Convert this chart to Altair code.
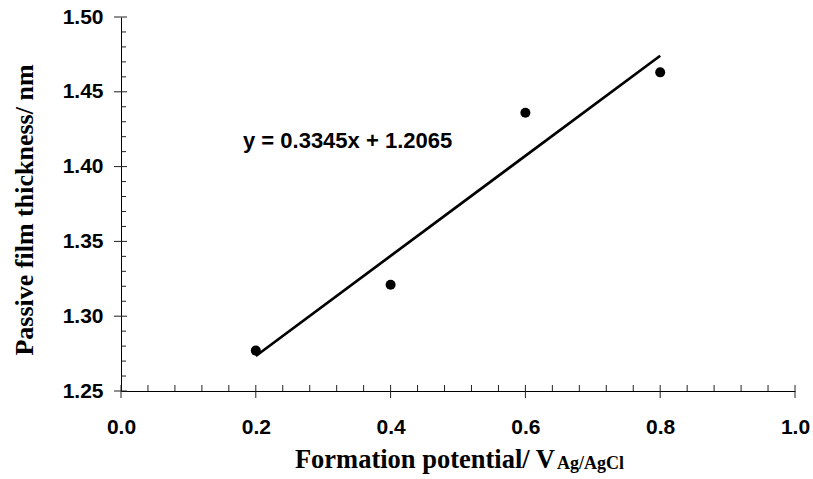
import altair as alt
import pandas as pd

# ---- data ----
potential = [0.2, 0.4, 0.6, 0.8]
thickness = [1.277, 1.321, 1.436, 1.463]
fit_x = [0.2, 0.8]
fit_y = [1.2734, 1.4741]
equation = ["y = 0.3345x + 1.2065"]
eq_x = [0.181]
eq_y = [1.4122]

x_major = [0.0, 0.2, 0.4, 0.6, 0.8, 1.0]
x_minor = [0.04, 0.08, 0.12, 0.16, 0.24, 0.28, 0.32, 0.36, 0.44, 0.48,
           0.52, 0.56, 0.64, 0.68, 0.72, 0.76, 0.84, 0.88, 0.92, 0.96]
y_major = [1.25, 1.30, 1.35, 1.40, 1.45, 1.50]
y_minor = [1.26, 1.27, 1.28, 1.29, 1.31, 1.32, 1.33, 1.34, 1.36, 1.37,
           1.38, 1.39, 1.41, 1.42, 1.43, 1.44, 1.46, 1.47, 1.48, 1.49]

x_title = ["Formation potential/ V"]
x_sub = ["Ag/AgCl"]
y_title = ["Passive film thickness/ nm"]

W, H = 674, 374
SANS = "Liberation Sans"
SERIF = "Liberation Serif"

xs = alt.Scale(domain=[0, 1], nice=False, zero=False)
ys = alt.Scale(domain=[1.25, 1.5], nice=False, zero=False)

xaxis = alt.Axis(
    values=x_major, format=".1f", title=None, grid=False,
    ticks=False, tickSize=0, labelPadding=25, labelFlush=False,
    labelOverlap=False,
    labelFont=SANS, labelFontWeight="bold", labelFontSize=21,
    labelColor="black", domainColor="black", domainWidth=1)
yaxis = alt.Axis(
    values=y_major, format=".2f", title=None, grid=False,
    ticks=False, tickSize=0, labelPadding=18, labelFlush=False,
    labelOverlap=False,
    labelFont=SANS, labelFontWeight="bold", labelFontSize=21,
    labelColor="black", domainColor="black", domainWidth=1)


def X(f):
    return alt.X(f, scale=xs, axis=xaxis, title=None)


def Y(f):
    return alt.Y(f, scale=ys, axis=yaxis, title=None)


pts_df = pd.DataFrame({"x": potential, "y": thickness})
fit_df = pd.DataFrame({"x": fit_x, "y": fit_y})
eq_df = pd.DataFrame({"x": eq_x, "y": eq_y, "t": equation})

points = alt.Chart(pts_df).mark_point(
    filled=True, shape="circle", size=100, color="black", opacity=1
).encode(x=X("x:Q"), y=Y("y:Q"))

fit = alt.Chart(fit_df).mark_line(color="black", strokeWidth=2.7).encode(
    x=X("x:Q"), y=Y("y:Q"))

eq = alt.Chart(eq_df).mark_text(
    align="left", baseline="alphabetic", font=SANS, fontWeight="bold",
    fontSize=22, color="black"
).encode(x=X("x:Q"), y=Y("y:Q"), text="t:N")

xmaj = alt.Chart(pd.DataFrame({"v": x_major})).mark_rule(
    color="#222", strokeWidth=1).encode(
    x=X("v:Q"), y=alt.value(H - 6), y2=alt.value(H + 7))
xmin = alt.Chart(pd.DataFrame({"v": x_minor})).mark_rule(
    color="#222", strokeWidth=1).encode(
    x=X("v:Q"), y=alt.value(H - 6), y2=alt.value(H))
ymaj = alt.Chart(pd.DataFrame({"v": y_major})).mark_rule(
    color="#222", strokeWidth=1).encode(
    y=Y("v:Q"), x=alt.value(-7), x2=alt.value(6))
ymin = alt.Chart(pd.DataFrame({"v": y_minor})).mark_rule(
    color="#222", strokeWidth=1).encode(
    y=Y("v:Q"), x=alt.value(0), x2=alt.value(5))

xt = alt.Chart(pd.DataFrame({"t": x_title})).mark_text(
    align="right", baseline="alphabetic", font=SERIF, fontWeight="bold",
    fontSize=26.5, color="black").encode(
    x=alt.value(434), y=alt.value(451), text="t:N")
xsub = alt.Chart(pd.DataFrame({"t": x_sub})).mark_text(
    align="left", baseline="alphabetic", font=SERIF, fontWeight="bold",
    fontSize=18, color="black").encode(
    x=alt.value(436), y=alt.value(452), text="t:N")
yt = alt.Chart(pd.DataFrame({"t": y_title})).mark_text(
    align="center", baseline="alphabetic", font=SERIF, fontWeight="bold",
    fontSize=26, angle=270, color="black").encode(
    x=alt.value(-88), y=alt.value(193), text="t:N")

chart = alt.layer(
    xmin, xmaj, ymin, ymaj, fit, points, eq, xt, xsub, yt
).properties(
    width=W, height=H,
    padding={"left": 121, "top": 17, "right": 18, "bottom": 88},
    autosize=alt.AutoSizeParams(type="none"),
    background="white",
).configure_view(stroke=None)

chart.save("out.html", embed_options={"renderer": "svg", "actions": False})
